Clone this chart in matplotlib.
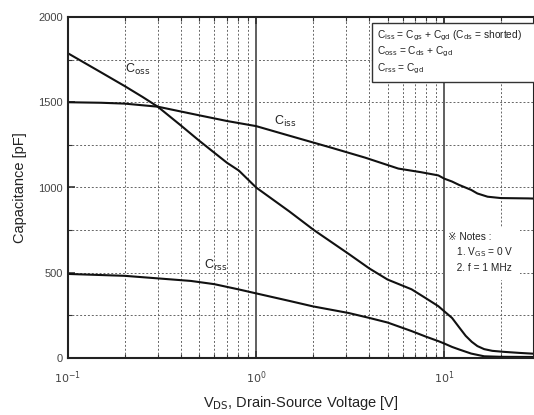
import numpy as np
import matplotlib
matplotlib.use('Agg')
import matplotlib.pyplot as plt
from matplotlib.patches import Rectangle
from matplotlib.ticker import FixedLocator, NullFormatter

plt.rcParams['font.family'] = ['Liberation Sans', 'DejaVu Sans']

# values (V, pF)
v_iss = [0.1, 0.15, 0.2, 0.3, 0.5, 0.7, 1.0, 1.5, 2.5, 3.8, 5.7, 7.5, 9.3, 10.0, 11.0, 12.0, 13.9, 15.0, 17.0, 20.0, 28.0, 30.0]
c_iss = [1500, 1497, 1492, 1474, 1423, 1390, 1360, 1304, 1234, 1175, 1111, 1090, 1071, 1052, 1035, 1015, 986, 965, 946, 938, 936, 935]

v_oss = [0.1, 0.15, 0.2, 0.25, 0.3, 0.4, 0.5, 0.7, 0.81, 1.0, 1.5, 2.03, 3.1, 4.0, 5.0, 6.7, 8.0, 9.3, 10.0, 11.0, 12.0, 13.0, 14.0, 15.0, 16.3, 18.0, 20.8, 25.0, 30.0]
c_oss = [1787, 1675, 1595, 1530, 1474, 1362, 1273, 1145, 1099, 1000, 860, 750, 611, 525, 460, 403, 350, 304, 274, 235, 180, 130, 95, 70, 52, 42, 36, 30, 25]

v_rss = [0.1, 0.2, 0.3, 0.45, 0.6, 0.81, 1.0, 1.5, 2.0, 3.1, 4.0, 5.0, 6.7, 8.0, 9.3, 10.0, 11.0, 12.0, 13.9, 16.3, 20.0, 30.0]
c_rss = [493, 482, 467, 452, 433, 402, 379, 335, 303, 264, 235, 208, 158, 125, 99, 85, 65, 50, 26, 10, 7, 6]

defs = [r'C$_\mathrm{iss}$ = C$_\mathrm{gs}$ + C$_\mathrm{gd}$ (C$_\mathrm{ds}$ = shorted)',
        r'C$_\mathrm{oss}$ = C$_\mathrm{ds}$ + C$_\mathrm{gd}$',
        r'C$_\mathrm{rss}$ = C$_\mathrm{gd}$']
notes = ['\u203b Notes :', r'   1. V$_\mathrm{GS}$ = 0 V', '   2. f = 1 MHz']

fig = plt.figure(figsize=(5.34, 4.15), dpi=100)
ax = fig.add_axes([68 / 534, 1 - 358 / 415, 466 / 534, 341 / 415])

ax.plot(v_iss, c_iss, color='#111111', lw=1.5)
ax.plot(v_oss, c_oss, color='#111111', lw=1.5)
ax.plot(v_rss, c_rss, color='#111111', lw=1.5)

ax.set_xscale('log')
ax.set_xlim(0.1, 30)
ax.set_ylim(0, 2000)

# grid: dashed minor lines, solid at decades
minors = [d * k for d in [0.1, 1, 10] for k in range(2, 10) if d * k < 30]
for x in minors:
    ax.axvline(x, color='#666666', lw=0.7, ls=(0, (2, 2)), zorder=0)
for x in [1, 10]:
    ax.axvline(x, color='#444444', lw=1.2, zorder=0)
for y in range(250, 2000, 250):
    ax.axhline(y, color='#666666', lw=0.7, ls=(0, (2, 2)), zorder=0)

ax.xaxis.set_major_locator(FixedLocator([0.1, 1, 10]))
ax.set_xticklabels(['$10^{-1}$', '$10^{0}$', '$10^{1}$'])
ax.xaxis.set_minor_locator(FixedLocator(minors))
ax.xaxis.set_minor_formatter(NullFormatter())
ax.set_yticks([0, 500, 1000, 1500, 2000])
ax.set_yticks(range(250, 2000, 500), minor=True)
ax.tick_params(which='both', direction='in', colors='#333333', labelcolor='#444444', labelsize=8)
ax.tick_params(which='major', length=5, width=1.2, top=True, right=False)
ax.tick_params(which='minor', length=3, width=0.8, top=True)
ax.tick_params(axis='x', pad=8)
for s in ax.spines.values():
    s.set_linewidth(1.5)
    s.set_color('#222222')

ax.set_xlabel(r'V$_\mathrm{DS}$, Drain-Source Voltage [V]', fontsize=10.5, color='#222222', labelpad=6)
ax.set_ylabel('Capacitance [pF]', fontsize=10.5, color='#222222', labelpad=8)

# curve labels
ax.text(0.2, 1690, r'C$_\mathrm{oss}$', fontsize=9, color='#222222', va='center')
ax.text(1.25, 1385, r'C$_\mathrm{iss}$', fontsize=9, color='#222222', va='center')
ax.text(0.53, 540, r'C$_\mathrm{rss}$', fontsize=9, color='#222222', va='center')

# definitions box
ax.add_patch(Rectangle((0.652, 0.809), 0.4, 0.174, transform=ax.transAxes, fc='white',
                       ec='#333333', lw=1.0, clip_on=False, zorder=3))
for i, s in enumerate(defs):
    ax.text(0.663, 0.945 - i * 0.048, s, transform=ax.transAxes, fontsize=7.3,
            va='center', ha='left', color='#222222', zorder=4)

# notes
ax.add_patch(Rectangle((0.809, 0.229), 0.16, 0.153, transform=ax.transAxes, fc='white',
                       ec='none', zorder=2))
for i, s in enumerate(notes):
    ax.text(0.815, 0.355 - i * 0.045, s, transform=ax.transAxes, fontsize=7.3,
            va='center', ha='left', color='#222222', zorder=4)

fig.savefig('out.png', dpi=100)
